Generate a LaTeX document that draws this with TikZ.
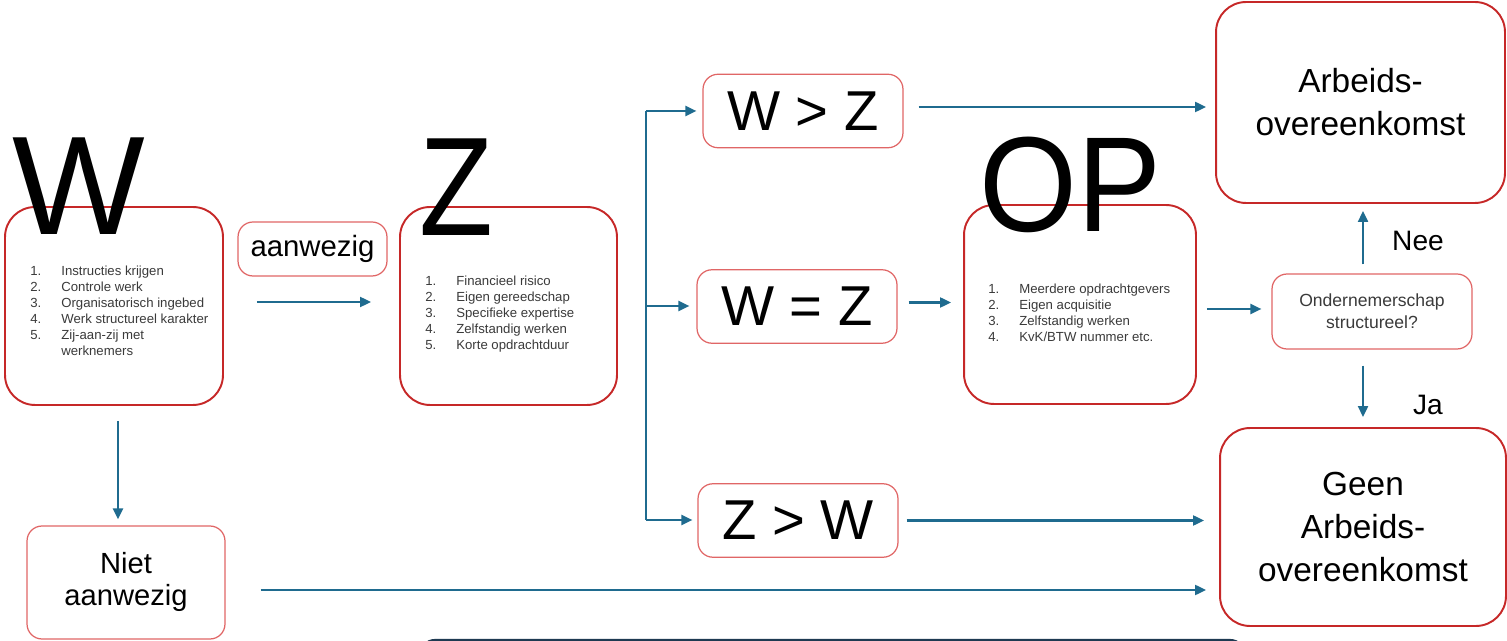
\documentclass[tikz,border=0pt]{standalone}
\usepackage{fontspec}
\setmainfont{Liberation Sans}
\usetikzlibrary{arrows.meta,calc}
\definecolor{boxred}{HTML}{C62828}
\definecolor{lightred}{HTML}{E06666}
\definecolor{arrblue}{HTML}{1F6B8F}
\definecolor{txtgray}{HTML}{3A3A3A}
\definecolor{navy}{HTML}{1E3A52}
\newcommand\lit[2]{\makebox[0.62cm][l]{#1}#2}
\begin{document}
\begin{tikzpicture}[x=0.02cm,y=-0.02cm,
  bigbox/.style={draw=boxred, line width=1.1pt, rounded corners=0.6cm, inner sep=0pt, align=center, text=black, font=\fontsize{19}{24.5}\selectfont},
  smallbox/.style={draw=lightred, line width=0.7pt, rounded corners=0.3cm, inner sep=0pt, align=center, text=black},
  cmpbox/.style={smallbox, minimum width=4cm, minimum height=1.47cm, font=\fontsize{32}{36}\selectfont},
  listtxt/.style={anchor=west, inner sep=0pt, align=left, text=txtgray, font=\fontsize{7.5}{9.1}\selectfont},
  bigletter/.style={inner sep=0pt, text=black, font=\fontsize{80}{80}\selectfont},
  lbl/.style={inner sep=0pt, text=black, font=\fontsize{16}{18}\selectfont},
  arr/.style={draw=arrblue, line width=1.2pt, -{Triangle[length=0.22cm,width=0.2cm]}},
  trunk/.style={draw=arrblue, line width=1.2pt}
]
\useasboundingbox (0,0) rectangle (1507,641);

% boxes
\node[bigbox, minimum width=4.36cm, minimum height=3.96cm] (W) at (114,306) {};
\node[bigbox, minimum width=4.34cm, minimum height=3.96cm] (Z) at (508.5,306) {};
\node[bigbox, minimum width=4.64cm, minimum height=3.98cm] (OP) at (1080,304.5) {};
\node[bigbox, minimum width=5.78cm, minimum height=4.02cm] (Arb) at (1360.5,102.5) {Arbeids-\\overeenkomst};
\node[bigbox, minimum width=5.72cm, minimum height=3.96cm] (Geen) at (1363,527) {Geen\\Arbeids-\\overeenkomst};
\node[smallbox, minimum width=3.96cm, minimum height=2.26cm, font=\fontsize{16.6}{20}\selectfont] (Niet) at (126,582.5) {\raisebox{-0.1cm}{\begin{tabular}{@{}c@{}}Niet\\[-0.05cm]aanwezig\end{tabular}}};
\node[smallbox, minimum width=2.98cm, minimum height=1.08cm, font=\fontsize{16.7}{20}\selectfont] (Aan) at (312.5,249) {aanwezig};
\node[cmpbox] (WgZ) at (803,111) {W > Z};
\node[cmpbox] (WeZ) at (797,306.5) {W = Z};
\node[cmpbox] (ZgW) at (798,520.5) {Z > W};
\node[smallbox, minimum width=4cm, minimum height=1.5cm, text=txtgray, font=\fontsize{10}{12.5}\selectfont] (On) at (1372,311.5) {Ondernemerschap\\structureel?};

% lists
\node[listtxt] (Wl) at (30,311) {\lit{1.}{Instructies krijgen}\\\lit{2.}{Controle werk}\\\lit{3.}{Organisatorisch ingebed}\\\lit{4.}{Werk structureel karakter}\\\lit{5.}{Zij-aan-zij met}\\\lit{}{werknemers}};
\node[listtxt] (Zl) at (425,314) {\lit{1.}{Financieel risico}\\\lit{2.}{Eigen gereedschap}\\\lit{3.}{Specifieke expertise}\\\lit{4.}{Zelfstandig werken}\\\lit{5.}{Korte opdrachtduur}};
\node[listtxt] (OPl) at (988,313) {\lit{1.}{Meerdere opdrachtgevers}\\\lit{2.}{Eigen acquisitie}\\\lit{3.}{Zelfstandig werken}\\\lit{4.}{KvK/BTW nummer etc.}};

% big letters
\node[bigletter] (Wb) at (79,186) {W};
\node[bigletter, xscale=0.86] (Zb) at (456,187) {Z};
\node[bigletter, xscale=0.93, font=\fontsize{77}{77}\selectfont] (OPb) at (1070,185) {OP};

% labels
\node[lbl] (Nee) at (1418,241) {Nee};
\node[lbl] (Ja) at (1428,405) {Ja};

% connectors
\draw[arr, shorten <=0.3cm, shorten >=0.12cm] ($(W.south)+(4,0)$) -- ($(Niet.north)+(-8,0)$);
\draw[arr] ($(W.east)+(33,-4)$) -- ($(Z.west)+(-28,-4)$);

\coordinate (bt) at (646,111);
\coordinate (bm) at (646,306);
\coordinate (bb) at (646,520);
\draw[trunk] (bt) -- (bb);
\draw[arr, shorten >=0.12cm] (bt) -- (WgZ.west);
\draw[arr, shorten >=0.14cm] (bm) -- (bm -| WeZ.west);
\draw[arr, shorten >=0.1cm] (bb) -- (bb -| ZgW.west);

\coordinate (a1) at ($(WgZ.east)+(15,-4)$);
\draw[arr, shorten >=0.18cm] (a1) -- (a1 -| Arb.west);
\coordinate (a2) at ($(WeZ.east)+(11,-4)$);
\draw[arr, shorten >=0.24cm] (a2) -- (a2 -| OP.west);
\coordinate (a3) at ($(OP.east)+(10,4.5)$);
\draw[arr, shorten >=0.2cm] (a3) -- (a3 -| On.west);
\coordinate (a4) at ($(On.north)+(-9,-9)$);
\draw[arr, shorten >=0.14cm] (a4) -- (a4 |- Arb.south);
\coordinate (a5) at ($(On.south)+(-9,16)$);
\draw[arr, shorten >=0.2cm] (a5) -- (a5 |- Geen.north);
\coordinate (a6) at ($(ZgW.east)+(8,0)$);
\draw[arr, shorten >=0.3cm] (a6) -- (a6 -| Geen.west);
\coordinate (a7) at ($(Niet.east)+(35,7.5)$);
\draw[arr, shorten >=0.26cm] (a7) -- (a7 -| Geen.west);

% partial shape at the bottom edge
\begin{scope}
\clip (0,0) rectangle (1507,641);
\draw[navy, line width=1.2pt, rounded corners=0.3cm] (420,720) -- (420,640) -- (1245,640) -- (1245,720);
\end{scope}
\end{tikzpicture}
\end{document}
